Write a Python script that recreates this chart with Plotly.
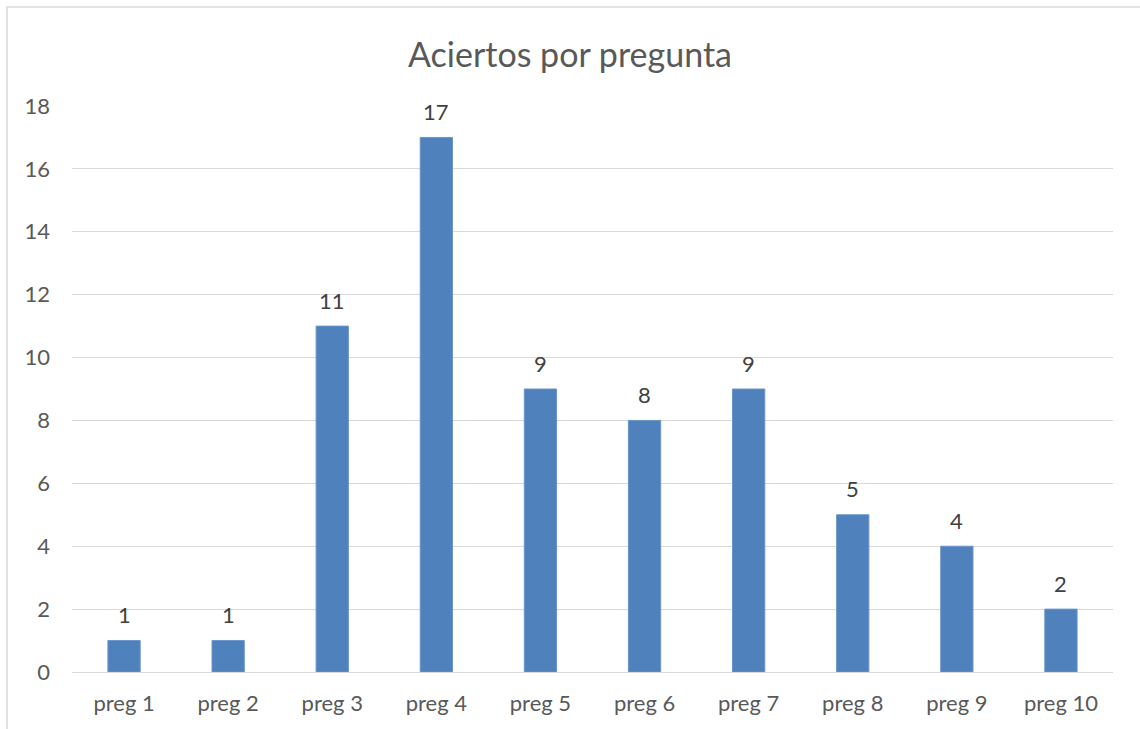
import plotly.graph_objects as go

categories = ["preg 1", "preg 2", "preg 3", "preg 4", "preg 5", "preg 6", "preg 7", "preg 8", "preg 9", "preg 10"]
aciertos = [1, 1, 11, 17, 9, 8, 9, 5, 4, 2]
y_ticks = [0, 2, 4, 6, 8, 10, 12, 14, 16, 18]

W, H = 1140, 729
L, R, T, B = 72, 27, 106, 57
pw, ph = W - L - R, H - T - B
FONT = "Lato"

fig = go.Figure(go.Bar(
    x=categories, y=aciertos,
    marker=dict(color="#4F81BD", line=dict(color="#6A95CB", width=1)),
    width=0.31,
    hoverinfo="x+y",
))

for c, v in zip(categories, aciertos):
    fig.add_annotation(x=c, y=v, text=str(v), showarrow=False,
                       xanchor="center", yanchor="middle", yshift=26,
                       font=dict(family=FONT, size=22, color="#404040"))

fig.update_layout(
    width=W, height=H,
    margin=dict(l=L, r=R, t=T, b=B),
    paper_bgcolor="white", plot_bgcolor="white",
    font=dict(family=FONT, color="#595959"),
    title=dict(text="Aciertos por pregunta", x=0.5, xanchor="center",
               y=1 - 55 / H, yanchor="middle",
               font=dict(family=FONT, size=34, color="#595959")),
    showlegend=False,
)
fig.update_yaxes(range=[0, 18], tickvals=y_ticks, showgrid=True, gridcolor="#D9D9D9",
                 gridwidth=1, zeroline=False, showline=False,
                 tickfont=dict(family=FONT, size=22, color="#595959"), ticks="", ticklabelstandoff=21)
fig.update_xaxes(showline=True, linecolor="#D9D9D9", linewidth=1, ticks="",
                 tickfont=dict(family=FONT, size=22, color="#595959"), ticklabelstandoff=12)

# chart-area border (partially cropped in the reference)
fig.add_shape(type="rect", xref="paper", yref="paper",
              x0=(7 - L) / pw, x1=(W + 20 - L) / pw,
              y0=-(B + 20) / ph, y1=(H - 7 - B) / ph,
              line=dict(color="#D9D9D9", width=1.5), fillcolor="rgba(0,0,0,0)", layer="below")

fig.write_html("out.html")
